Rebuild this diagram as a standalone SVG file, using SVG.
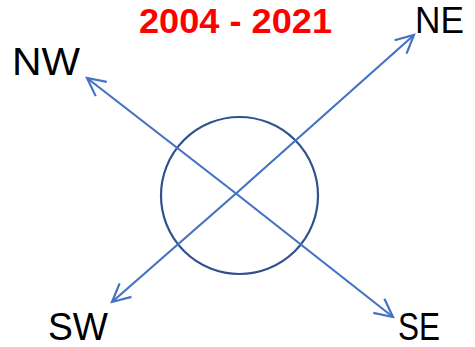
<svg xmlns="http://www.w3.org/2000/svg" width="475" height="347" viewBox="0 0 475 347">
<style>
.ln{stroke:#4472C4;stroke-width:2.2;fill:none}
.lbl{font-family:"Liberation Sans",Arial,sans-serif;font-size:39px;fill:#000}
.title{font-family:"Liberation Sans",Arial,sans-serif;font-size:35px;font-weight:bold;fill:#FF0000}
</style>
<defs>
<marker id="arr" markerUnits="userSpaceOnUse" viewBox="-20 -11 22 22" refX="0" refY="0" markerWidth="22" markerHeight="22" orient="auto" overflow="visible">
<path d="M-18,-9 L0,0 L-18,9" fill="none" stroke="#4472C4" stroke-width="2.2"/>
</marker>
</defs>
<rect width="475" height="347" fill="#fff"/>
<g id="title"><text class="title" x="139" y="33" textLength="193" lengthAdjust="spacingAndGlyphs">2004 - 2021</text></g>
<g id="center"><circle cx="239.5" cy="195.5" r="78.5" fill="none" stroke="#2F528F" stroke-width="2.2"/></g>
<g id="connectors">
<line class="ln" x1="236" y1="193.5" x2="414" y2="35" marker-end="url(#arr)"/>
<line class="ln" x1="236" y1="193.5" x2="112" y2="302" marker-end="url(#arr)"/>
<line class="ln" x1="236" y1="193.5" x2="87" y2="78" marker-end="url(#arr)"/>
<line class="ln" x1="236" y1="193.5" x2="393" y2="317" marker-end="url(#arr)"/>
</g>
<g id="NE"><text class="lbl" x="415" y="33" style="font-size:36px" textLength="49" lengthAdjust="spacingAndGlyphs">NE</text></g>
<g id="NW"><text class="lbl" x="12" y="75" textLength="68" lengthAdjust="spacingAndGlyphs">NW</text></g>
<g id="SW"><text class="lbl" x="48" y="340" textLength="60" lengthAdjust="spacingAndGlyphs">SW</text></g>
<g id="SE"><text class="lbl" x="398" y="340" textLength="42" lengthAdjust="spacingAndGlyphs">SE</text></g>
</svg>
